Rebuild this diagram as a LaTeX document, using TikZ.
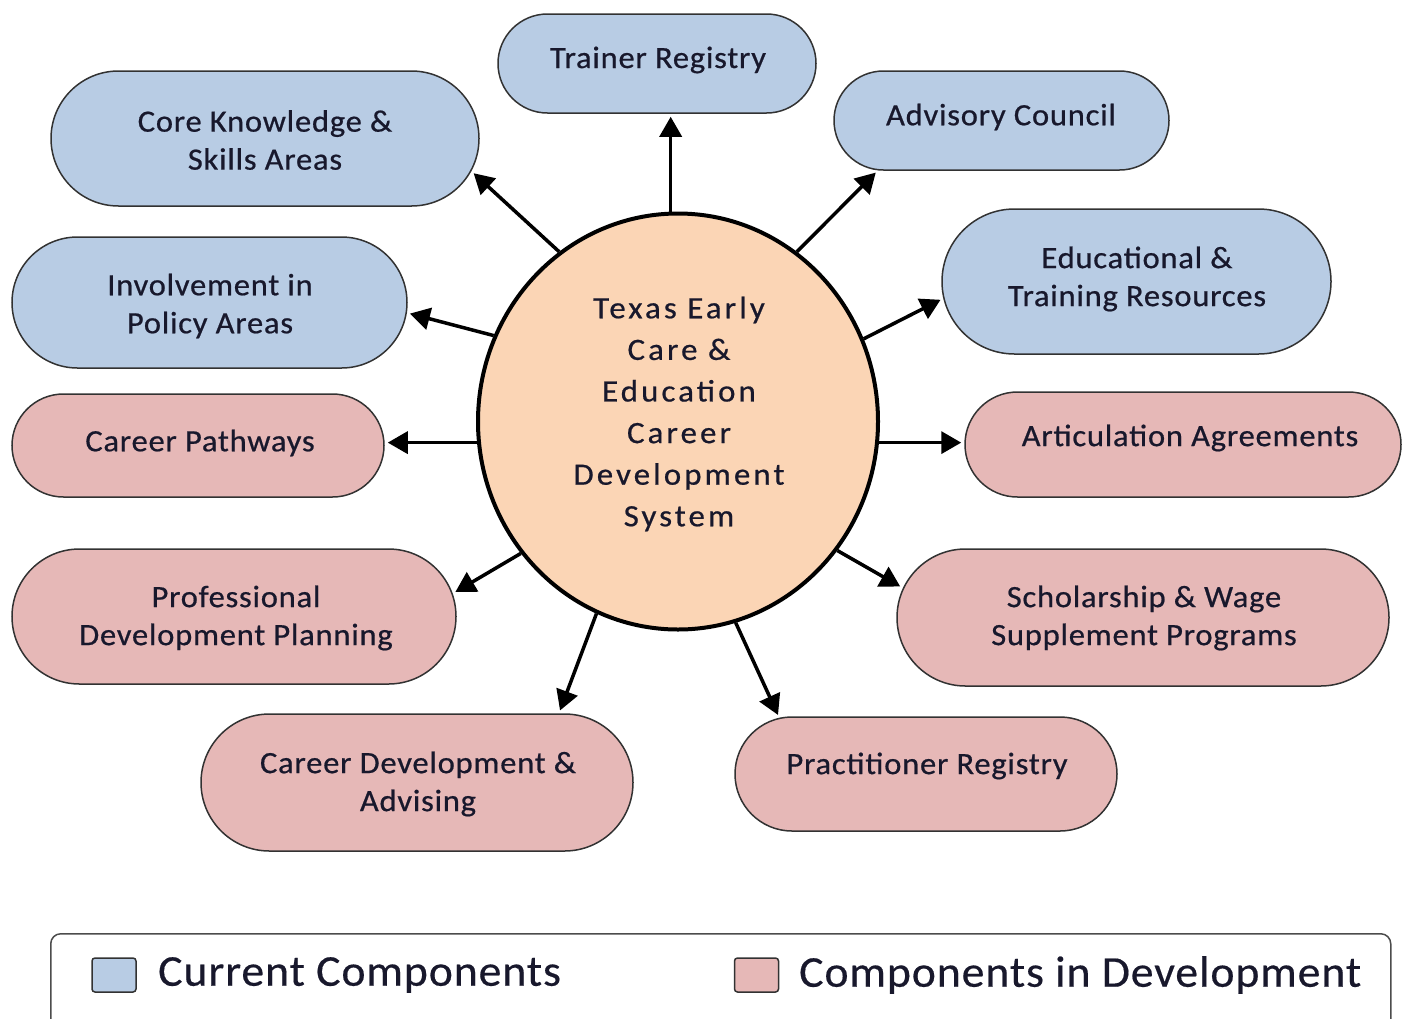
\documentclass[tikz,border=0pt]{standalone}
\usepackage{fontspec}
\setmainfont{Carlito}
\newfontfamily\boxfont[LetterSpace=2.5,FakeStretch=1.05,FakeBold=0.6]{Carlito}
\newfontfamily\cfont[LetterSpace=10,FakeStretch=1.06,FakeBold=0.6]{Carlito}
\newfontfamily\legfont[LetterSpace=2,FakeStretch=1.04,FakeBold=0.4]{Carlito}
\usetikzlibrary{shapes.misc,shapes.geometric,arrows.meta,calc}
\definecolor{cblue}{HTML}{B8CCE4}
\definecolor{cpink}{HTML}{E6B8B7}
\definecolor{cpeach}{HTML}{FBD5B5}
\definecolor{ctext}{RGB}{24,24,44}
\definecolor{cedge}{RGB}{50,50,50}
\begin{document}
\begin{tikzpicture}[x=1pt,y=-1pt,
  comp/.style={rounded rectangle, draw=cedge, line width=1.5pt, inner sep=0pt},
  cur/.style={comp, fill=cblue},
  dev/.style={comp, fill=cpink},
  lbl/.style={text=ctext, align=center, font=\boxfont\fontsize{31}{38}\selectfont, inner sep=0pt},
  clbl/.style={text=ctext, align=center, font=\cfont\fontsize{31}{41.6}\selectfont, inner sep=0pt},
  leglbl/.style={text=ctext, anchor=west, font=\legfont\fontsize{44}{48}\selectfont, inner sep=0pt},
  key/.style={draw=cedge, line width=1.5pt, rounded corners=3pt, minimum width=44, minimum height=34, inner sep=0pt},
  arr/.style={-{Triangle[length=20pt,width=22pt]}, line width=3.5pt, shorten >=3pt}
]
\useasboundingbox (0,0) rectangle (1402,1018);

% centre
\node[ellipse, draw=black, line width=4pt, fill=cpeach, minimum width=400, minimum height=416, inner sep=0pt] (c) at (678,421.5) {};
\node[clbl] (cT) at (679,414) {Texas Early\\Care \&\\Education\\Career\\Development\\System};

% current components
\node[cur, minimum width=318, minimum height=99] (tr) at (657,63.5) {};
\node[lbl] (trT) at (658,60) {Trainer Registry};
\node[cur, minimum width=428, minimum height=135] (ck) at (265,138.5) {};
\node[lbl] (ckT) at (265,140) {Core Knowledge \&\\Skills Areas};
\node[cur, minimum width=335, minimum height=99] (ac) at (1001.5,120.5) {};
\node[lbl] (acT) at (1001,117) {Advisory Council};
\node[cur, minimum width=389, minimum height=145] (ed) at (1136.5,281.5) {};
\node[lbl] (edT) at (1137,279) {Educational \&\\Training Resources};
\node[cur, minimum width=395, minimum height=131] (inv) at (209.5,302.5) {};
\node[lbl] (invT) at (210,306) {Involvement in\\Policy Areas};

% components in development
\node[dev, minimum width=372, minimum height=103] (cp) at (198,445.5) {};
\node[lbl] (cpT) at (200,443) {Career Pathways};
\node[dev, minimum width=436, minimum height=105] (art) at (1183,444.5) {};
\node[lbl] (artT) at (1190,438) {Articulation Agreements};
\node[dev, minimum width=444, minimum height=135] (pd) at (234,616.5) {};
\node[lbl] (pdT) at (236,618) {Professional\\Development Planning};
\node[dev, minimum width=492, minimum height=137] (sch) at (1143,617.5) {};
\node[lbl] (schT) at (1144,618) {Scholarship \& Wage\\Supplement Programs};
\node[dev, minimum width=432, minimum height=137] (cda) at (417,782.5) {};
\node[lbl] (cdaT) at (418,784) {Career Development \&\\Advising};
\node[dev, minimum width=382, minimum height=114] (pr) at (926,774) {};
\node[lbl] (prT) at (927,766) {Practitioner Registry};

% arrows
\draw[arr] (c.92) -- (c.92 |- tr.south);
\draw[arr] (c.125.3) -- (ck.-9.2);
\draw[arr] (c.55.6) -- (ac.202.6);
\draw[arr] (c.24.8) -- (ed.185.6);
\draw[arr] (c.155.2) -- (inv.-3.7);
\draw[arr] (c.186) -- (c.186 -| cp.east);
\draw[arr] (c.-6) -- (c.-6 -| art.west);
\draw[arr] (c.220) -- (pd.6.7);
\draw[arr] (c.-39.3) -- (sch.173.8);
\draw[arr] (c.-113.1) -- (cda.26.4);
\draw[arr] (c.-74.7) -- (pr.159.9);

% legend
\node[draw=gray!60!black, line width=1.5pt, rounded corners=10pt, minimum width=1340, minimum height=110, anchor=north west, inner sep=0pt] (leg) at (50,933) {};
\node[key, fill=cblue] (kb) at (114,975) {};
\node[leglbl] (kbT) at (158,975) {Current Components};
\node[key, fill=cpink] (kp) at (756.5,975) {};
\node[leglbl] (kpT) at (799,975) {Components in Development};
\end{tikzpicture}
\end{document}
